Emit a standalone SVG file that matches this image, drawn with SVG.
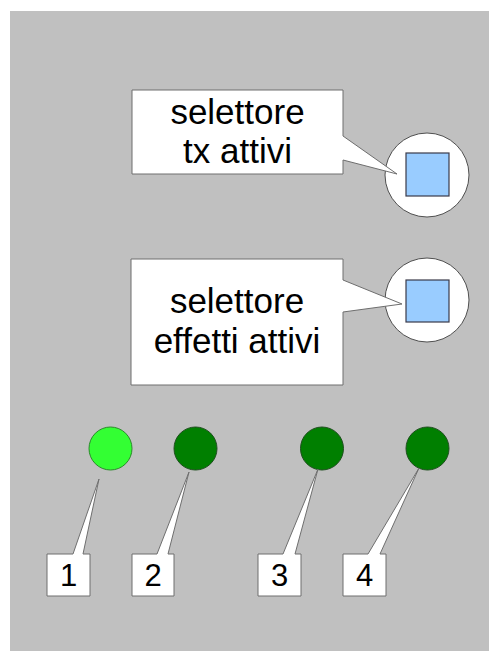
<svg xmlns="http://www.w3.org/2000/svg" width="489" height="651" viewBox="0 0 489 651">
<style>
.bg{fill:#c0c0c0}
.callout{fill:#ffffff;stroke:#6e6e6e;stroke-width:1;stroke-linejoin:miter}
.knob{fill:#ffffff;stroke:#505050;stroke-width:1}
.sq{fill:#99ccff;stroke:#3a3a4a;stroke-width:1.2}
.ledon{fill:#33ff33;stroke:#2a8a2a;stroke-width:1}
.ledoff{fill:#007f00;stroke:#1e4e1e;stroke-width:1}
.t{font-family:"Liberation Sans",Arial,sans-serif;font-size:35px;fill:#000;text-anchor:middle}
.d{font-family:"Liberation Sans",Arial,sans-serif;font-size:31px;fill:#000;text-anchor:middle}
</style>
<rect x="0" y="0" width="489" height="651" fill="#ffffff"/>
<rect class="bg" x="10" y="11" width="479" height="640"/>
<g id="connectors"/>
<g id="knob-tx">
<circle class="knob" cx="427" cy="175" r="42"/>
<rect class="sq" x="406" y="153" width="43" height="43"/>
</g>
<g id="label-tx">
<path class="callout" d="M132,90 H343 V136 L397,174 L343,160 V174 H132 Z"/>
<text class="t" x="237.5" y="124">selettore</text>
<text class="t" x="237.5" y="163">tx attivi</text>
</g>
<g id="knob-fx">
<circle class="knob" cx="427" cy="300" r="42"/>
<rect class="sq" x="406" y="280" width="43" height="42"/>
</g>
<g id="label-fx">
<path class="callout" d="M131,259 H343 V280 L402,304 L343,312 V385 H131 Z"/>
<text class="t" x="237" y="313">selettore</text>
<text class="t" x="237" y="353">effetti attivi</text>
</g>
<g id="led1"><circle class="ledon" cx="110.5" cy="448.5" r="21.5"/></g>
<g id="led2"><circle class="ledoff" cx="195.5" cy="448.5" r="21.5"/></g>
<g id="led3"><circle class="ledoff" cx="322" cy="448.5" r="21.5"/></g>
<g id="led4"><circle class="ledoff" cx="427.5" cy="448.5" r="21.5"/></g>
<g id="tag1">
<path class="callout" d="M47,554 H73 L99,479 L83,554 H90 V596 H47 Z"/>
<text class="d" x="68.5" y="586">1</text>
</g>
<g id="tag2">
<path class="callout" d="M132,554 H157 L189,472 L168,554 H174 V596 H132 Z"/>
<text class="d" x="153" y="586">2</text>
</g>
<g id="tag3">
<path class="callout" d="M258,554 H283 L318,469 L295,554 H301 V596 H258 Z"/>
<text class="d" x="279.5" y="586">3</text>
</g>
<g id="tag4">
<path class="callout" d="M343,554 H368 L419,468 L380,554 H386 V596 H343 Z"/>
<text class="d" x="364.5" y="586">4</text>
</g>
</svg>
